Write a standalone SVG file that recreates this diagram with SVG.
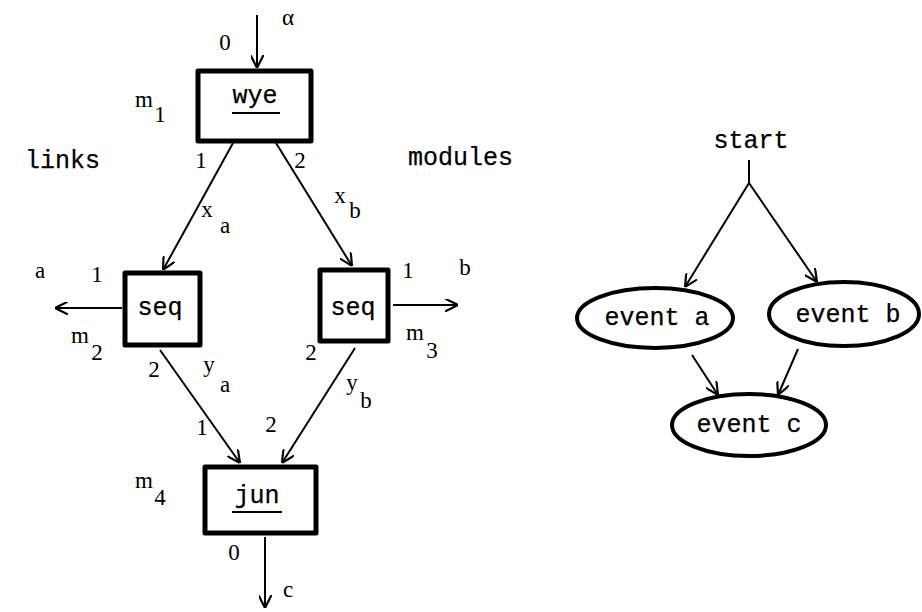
<svg xmlns="http://www.w3.org/2000/svg" width="922" height="612" viewBox="0 0 922 612">
  <style>
    .box { fill: #fff; stroke: #000; stroke-width: 5; stroke-linejoin: round; }
    .ell { fill: #fff; stroke: #000; stroke-width: 4; }
    .ln { fill: none; stroke: #000; stroke-width: 2; }
    .ul { stroke: #000; stroke-width: 2; }
    .tt { font-family: "Liberation Mono", "Courier New", monospace; font-size: 25px; fill: #000; stroke: #000; stroke-width: 0.25; }
    .lb { font-family: "Liberation Serif", "Times New Roman", serif; font-size: 23px; fill: #000; text-anchor: middle; }
    .m { text-anchor: middle; }
  </style>
  <defs>
    <marker id="arr" viewBox="0 0 12 12" refX="12" refY="6" markerWidth="13" markerHeight="13" markerUnits="userSpaceOnUse" orient="auto">
      <path d="M0,0 L12,6 L0,12" fill="none" stroke="#000" stroke-width="2"/>
    </marker>
  </defs>

  <!-- connectors -->
  <g id="connectors">
    <line class="ln" x1="257" y1="15" x2="257" y2="68" marker-end="url(#arr)"/>
    <line class="ln" x1="233" y1="143" x2="163" y2="270" marker-end="url(#arr)"/>
    <line class="ln" x1="276" y1="143" x2="352" y2="266" marker-end="url(#arr)"/>
    <line class="ln" x1="122" y1="308" x2="55" y2="308" marker-end="url(#arr)"/>
    <line class="ln" x1="393" y1="305" x2="458" y2="305" marker-end="url(#arr)"/>
    <line class="ln" x1="160" y1="350" x2="240" y2="463" marker-end="url(#arr)"/>
    <line class="ln" x1="355" y1="348" x2="282" y2="463" marker-end="url(#arr)"/>
    <line class="ln" x1="265" y1="537" x2="265" y2="608" marker-end="url(#arr)"/>
    <!-- event graph -->
    <line class="ln" x1="749" y1="160" x2="749" y2="183"/>
    <line class="ln" x1="749" y1="183" x2="685" y2="287" marker-end="url(#arr)"/>
    <line class="ln" x1="749" y1="183" x2="817" y2="282" marker-end="url(#arr)"/>
    <line class="ln" x1="692" y1="355" x2="718" y2="395" marker-end="url(#arr)"/>
    <line class="ln" x1="798" y1="349" x2="778" y2="395" marker-end="url(#arr)"/>
  </g>

  <!-- module network -->
  <g id="wye">
    <rect class="box" x="198" y="71" width="113" height="70"/>
    <text class="tt m" x="255" y="103">wye</text>
    <line class="ul" x1="232" y1="113" x2="280" y2="113"/>
  </g>
  <g id="seq-a">
    <rect class="box" x="125" y="273" width="75" height="72"/>
    <text class="tt m" x="160" y="315">seq</text>
  </g>
  <g id="seq-b">
    <rect class="box" x="320" y="270" width="68" height="71"/>
    <text class="tt m" x="353" y="315">seq</text>
  </g>
  <g id="jun">
    <rect class="box" x="205" y="467" width="111" height="66"/>
    <text class="tt m" x="257" y="503">jun</text>
    <line class="ul" x1="232" y1="512" x2="282" y2="512"/>
  </g>

  <g id="labels">
    <text class="lb" x="225" y="50">0</text>
    <text class="lb" x="288" y="25" font-size="24">α</text>
    <text class="lb" x="144" y="107">m</text>
    <text class="lb" x="160" y="122">1</text>
    <text class="lb" x="201" y="168">1</text>
    <text class="lb" x="300" y="168">2</text>
    <text class="tt" x="25" y="168">links</text>
    <text class="tt" x="408" y="165">modules</text>
    <text class="lb" x="207" y="217">x</text>
    <text class="lb" x="225" y="233">a</text>
    <text class="lb" x="340" y="203">x</text>
    <text class="lb" x="355" y="218">b</text>
    <text class="lb" x="40" y="278">a</text>
    <text class="lb" x="97" y="282">1</text>
    <text class="lb" x="80" y="343">m</text>
    <text class="lb" x="97" y="360">2</text>
    <text class="lb" x="154" y="377">2</text>
    <text class="lb" x="209" y="372">y</text>
    <text class="lb" x="225" y="392">a</text>
    <text class="lb" x="408" y="278">1</text>
    <text class="lb" x="465" y="275">b</text>
    <text class="lb" x="415" y="340">m</text>
    <text class="lb" x="432" y="358">3</text>
    <text class="lb" x="311" y="360">2</text>
    <text class="lb" x="202" y="435">1</text>
    <text class="lb" x="271" y="432">2</text>
    <text class="lb" x="352" y="390">y</text>
    <text class="lb" x="366" y="408">b</text>
    <text class="lb" x="144" y="488">m</text>
    <text class="lb" x="160" y="505">4</text>
    <text class="lb" x="234" y="560">0</text>
    <text class="lb" x="288" y="597">c</text>
  </g>

  <!-- event graph -->
  <g id="start">
    <text class="tt m" x="751" y="148">start</text>
  </g>
  <g id="event-a">
    <ellipse class="ell" cx="655" cy="318" rx="78" ry="30"/>
    <text class="tt m" x="657" y="325">event a</text>
  </g>
  <g id="event-b">
    <ellipse class="ell" cx="844" cy="314" rx="75" ry="32"/>
    <text class="tt m" x="848" y="322">event b</text>
  </g>
  <g id="event-c">
    <ellipse class="ell" cx="749" cy="425" rx="77" ry="31"/>
    <text class="tt m" x="749" y="432">event c</text>
  </g>
</svg>
